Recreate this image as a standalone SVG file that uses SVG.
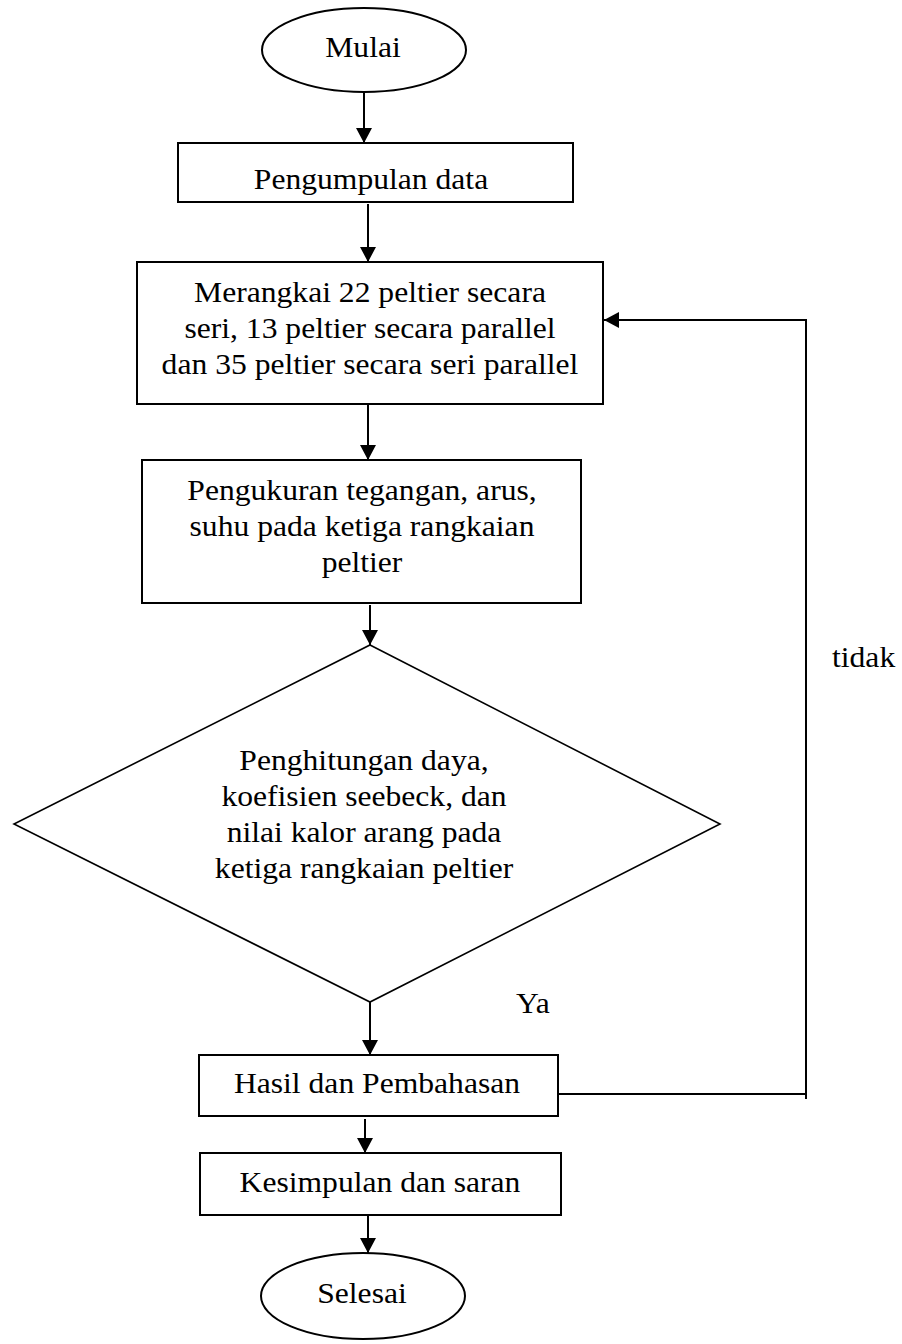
<svg xmlns="http://www.w3.org/2000/svg" width="902" height="1344" viewBox="0 0 902 1344">
<style>
.s{fill:#fff;stroke:#000;stroke-width:2}
.d{fill:#fff;stroke:#000;stroke-width:1.6}
.c{fill:none;stroke:#000;stroke-width:2}
.t{font-family:"Liberation Serif","Times New Roman",serif;font-size:29px;fill:#000;text-anchor:middle}
.l{font-family:"Liberation Serif","Times New Roman",serif;font-size:29px;fill:#000;text-anchor:start}
</style>
<defs>
<marker id="ah" markerUnits="userSpaceOnUse" markerWidth="16" markerHeight="16" refX="15" refY="8" orient="auto">
<path d="M0,0 L15,8 L0,16 Z" fill="#000"/>
</marker>
</defs>
<rect width="902" height="1344" fill="#fff"/>
<g id="connectors">
<line class="c" x1="364" y1="92" x2="364" y2="143" marker-end="url(#ah)"/>
<line class="c" x1="368" y1="204" x2="368" y2="262" marker-end="url(#ah)"/>
<line class="c" x1="368" y1="404" x2="368" y2="460" marker-end="url(#ah)"/>
<line class="c" x1="370" y1="605" x2="370" y2="645" marker-end="url(#ah)"/>
<line class="c" x1="370" y1="1002" x2="370" y2="1055" marker-end="url(#ah)"/>
<line class="c" x1="365" y1="1119" x2="365" y2="1153" marker-end="url(#ah)"/>
<line class="c" x1="368" y1="1215" x2="368" y2="1253" marker-end="url(#ah)"/>
<polyline class="c" points="558,1094 806,1094"/>
<polyline class="c" points="806,1099 806,320 604,320" marker-end="url(#ah)"/>
</g>
<g id="mulai">
<ellipse class="s" cx="364" cy="50" rx="102" ry="42"/>
<text class="t" transform="translate(363,57) scale(1.09,1)" x="0" y="0">Mulai</text>
</g>
<g id="pengumpulan">
<rect class="s" x="178" y="143" width="395" height="59"/>
<text class="t" transform="translate(371,189) scale(1.09,1)" x="0" y="0">Pengumpulan data</text>
</g>
<g id="merangkai">
<rect class="s" x="137" y="262" width="466" height="142"/>
<text class="t" transform="translate(370,302) scale(1.09,1)"><tspan x="0" y="0">Merangkai 22  peltier secara</tspan><tspan x="0" y="36">seri, 13 peltier secara parallel</tspan><tspan x="0" y="72">dan 35 peltier secara seri parallel</tspan></text>
</g>
<g id="pengukuran">
<rect class="s" x="142" y="460" width="439" height="143"/>
<text class="t" transform="translate(362,500) scale(1.09,1)"><tspan x="0" y="0">Pengukuran tegangan, arus,</tspan><tspan x="0" y="36">suhu pada ketiga rangkaian</tspan><tspan x="0" y="72">peltier</tspan></text>
</g>
<g id="penghitungan">
<polygon class="d" points="370,645 720,824 370,1002 14,824"/>
<text class="t" transform="translate(364,770) scale(1.09,1)"><tspan x="0" y="0">Penghitungan daya,</tspan><tspan x="0" y="36">koefisien seebeck, dan</tspan><tspan x="0" y="72">nilai kalor arang pada</tspan><tspan x="0" y="108">ketiga rangkaian peltier</tspan></text>
</g>
<g id="hasil">
<rect class="s" x="199" y="1055" width="359" height="61"/>
<text class="t" transform="translate(377,1093) scale(1.09,1)" x="0" y="0">Hasil dan Pembahasan</text>
</g>
<g id="kesimpulan">
<rect class="s" x="200" y="1153" width="361" height="62"/>
<text class="t" transform="translate(380,1192) scale(1.09,1)" x="0" y="0">Kesimpulan dan saran</text>
</g>
<g id="selesai">
<ellipse class="s" cx="363" cy="1296" rx="102" ry="43"/>
<text class="t" transform="translate(362,1303) scale(1.09,1)" x="0" y="0">Selesai</text>
</g>
<g id="labels">
<text class="l" transform="translate(832,667) scale(1.09,1)" x="0" y="0">tidak</text>
<text class="l" transform="translate(516,1013) scale(1.09,1)" x="0" y="0">Ya</text>
</g>
</svg>
